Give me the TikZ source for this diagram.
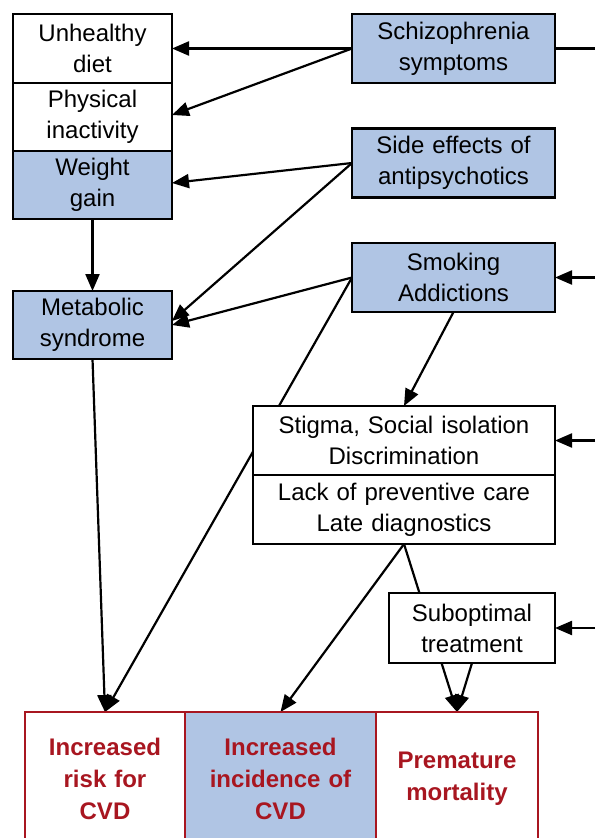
\documentclass[tikz,border=0pt]{standalone}
\usepackage{fontspec}
\setmainfont{Liberation Sans}
\usetikzlibrary{positioning, arrows.meta}
\definecolor{boxblue}{RGB}{176,197,228}
\definecolor{cvdred}{RGB}{168,22,32}
\pgfdeclarelayer{background}
\pgfsetlayers{background,main}

\begin{document}
\begin{tikzpicture}[x=1pt, y=-1pt]
      % Define styles for nodes
      \tikzset{
        whitebox/.style={rectangle, draw, line width=2.4pt, fill=white, align=center, inner sep=0pt, outer sep=0pt, font=\fontsize{24}{31}\selectfont},
        bluebox/.style={whitebox, fill=boxblue},
        leftbox/.style={text width=159pt, minimum height=68pt},
        rightbox/.style={text width=203pt, minimum height=69pt},
        outcome/.style={rectangle, draw=cvdred, line width=2.2pt, text=cvdred, align=center, inner sep=0pt, outer sep=0pt, minimum height=134pt, font=\fontsize{24}{32}\selectfont\bfseries},
        arrow/.style={line width=2.2pt, -{Triangle[length=17pt, width=14pt]}},
        plainline/.style={line width=2.2pt}
      }
      \useasboundingbox (0,0) rectangle (595,838);
      \clip (0,0) rectangle (595,838);

      % Left column: lifestyle factors
      \node[whitebox, leftbox, minimum height=69pt] (diet) at (92.5,48.5) {Unhealthy\\diet};
      \node[whitebox, leftbox, below=0pt of diet] (inactivity) {Physical\\inactivity};
      \node[bluebox, leftbox, below=0pt of inactivity] (weight) {Weight\\gain};
      \node[bluebox, leftbox] (metabolic) at (92.5,325) {Metabolic\\syndrome};

      % Right column: causes
      \node[bluebox, rightbox] (schizo) at (453.5,48.5) {Schizophrenia\\symptoms};
      \node[bluebox, rightbox] (sideeff) at (453.5,163) {Side effects of\\antipsychotics};
      \node[bluebox, rightbox] (smoking) at (453.5,277.5) {Smoking\\Addictions};

      % Care related factors
      \node[whitebox, text width=302pt, minimum height=69pt] (stigma) at (404,440.5) {Stigma, Social isolation\\Discrimination};
      \node[whitebox, text width=302pt, minimum height=69pt, below=0pt of stigma] (lackcare) {Lack of preventive care\\Late diagnostics};
      \node[whitebox, text width=166pt, minimum height=70pt] (subopt) at (472,628) {Suboptimal\\treatment};

      % Outcomes
      \node[outcome, fill=white, text width=160pt] (risk) at (105,779) {Increased\\risk for\\CVD};
      \node[outcome, fill=boxblue, text width=191pt, right=0pt of risk] (incid) {Increased\\incidence of\\CVD};
      \node[outcome, fill=white, text width=162pt, right=0pt of incid] (mort) {Premature\\mortality};

      % Free ends at the right margin
      \coordinate (rightedge) at (595,0);

      % Draw the edges connecting the nodes
      \begin{pgfonlayer}{background}
        \draw[arrow] (schizo.west) -- (diet.east);
        \draw[arrow] (schizo.west) -- ([yshift=2pt]inactivity.east);
        \draw[arrow] (sideeff.west) -- ([yshift=2pt]weight.east);
        \draw[arrow] (sideeff.west) -- ([yshift=4pt]metabolic.east);
        \draw[arrow] (smoking.west) -- (metabolic.east);
        \draw[arrow] (weight) -- (metabolic);
        \draw[arrow] (metabolic.south) -- (risk.north);
        \draw[arrow] (smoking.west) -- (risk.north);
        \draw[arrow] (smoking.south) -- (stigma.north);
        \draw[arrow] (lackcare.south) -- (incid.north);
        \draw[arrow] (lackcare.south) -- (mort.north);
        \draw[arrow] (subopt.south) -- (mort.north);
        \draw[plainline] (schizo.east) -- (schizo.east -| rightedge);
        \draw[arrow] (smoking.east -| rightedge) -- (smoking.east);
        \draw[arrow] (stigma.east -| rightedge) -- (stigma.east);
        \draw[arrow] (subopt.east -| rightedge) -- (subopt.east);
      \end{pgfonlayer}
\end{tikzpicture}
\end{document}
